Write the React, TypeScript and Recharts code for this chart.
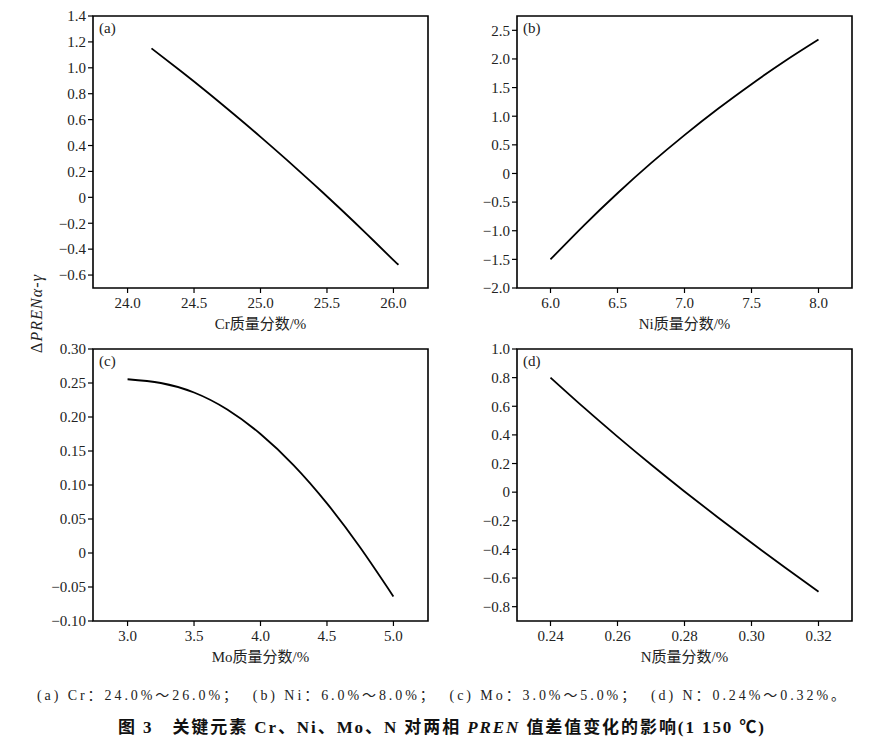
import React from 'react';
import { LineChart, Line, XAxis, YAxis, ReferenceArea } from 'recharts';

// (a) Cr
const crX = [24.18, 24.4, 24.6, 24.8, 25.0, 25.2, 25.4, 25.6, 25.8, 26.0, 26.03];
const crY = [1.15, 0.975, 0.811, 0.641, 0.467, 0.287, 0.102, -0.088, -0.284, -0.485, -0.512];
const crXTicks = [24.0, 24.5, 25.0, 25.5, 26.0];
const crXLabels = ['24.0', '24.5', '25.0', '25.5', '26.0'];
const crYTicks = [1.4, 1.2, 1.0, 0.8, 0.6, 0.4, 0.2, 0, -0.2, -0.4, -0.6];
const crYLabels = ['1.4', '1.2', '1.0', '0.8', '0.6', '0.4', '0.2', '0', '−0.2', '−0.4', '−0.6'];

// (b) Ni
const niX = [6.0, 6.25, 6.5, 6.75, 7.0, 7.25, 7.5, 7.75, 8.0];
const niY = [-1.5, -0.905, -0.345, 0.18, 0.67, 1.13, 1.56, 1.965, 2.34];
const niXTicks = [6.0, 6.5, 7.0, 7.5, 8.0];
const niXLabels = ['6.0', '6.5', '7.0', '7.5', '8.0'];
const niYTicks = [2.5, 2.0, 1.5, 1.0, 0.5, 0, -0.5, -1.0, -1.5, -2.0];
const niYLabels = ['2.5', '2.0', '1.5', '1.0', '0.5', '0', '−0.5', '−1.0', '−1.5', '−2.0'];

// (c) Mo
const moX = [3.0, 3.25, 3.5, 3.75, 4.0, 4.25, 4.5, 4.75, 5.0];
const moY = [0.2555, 0.25, 0.236, 0.211, 0.175, 0.129, 0.073, 0.008, -0.064];
const moXTicks = [3.0, 3.5, 4.0, 4.5, 5.0];
const moXLabels = ['3.0', '3.5', '4.0', '4.5', '5.0'];
const moYTicks = [0.3, 0.25, 0.2, 0.15, 0.1, 0.05, 0, -0.05, -0.1];
const moYLabels = ['0.30', '0.25', '0.20', '0.15', '0.10', '0.05', '0', '−0.05', '−0.10'];

// (d) N
const nX = [0.24, 0.25, 0.26, 0.27, 0.28, 0.29, 0.3, 0.31, 0.32];
const nY = [0.8, 0.59, 0.388, 0.193, 0.005, -0.177, -0.354, -0.526, -0.695];
const nXTicks = [0.24, 0.26, 0.28, 0.3, 0.32];
const nXLabels = ['0.24', '0.26', '0.28', '0.30', '0.32'];
const nYTicks = [1.0, 0.8, 0.6, 0.4, 0.2, 0, -0.2, -0.4, -0.6, -0.8];
const nYLabels = ['1.0', '0.8', '0.6', '0.4', '0.2', '0', '−0.2', '−0.4', '−0.6', '−0.8'];

const serif = "'Liberation Serif', 'Times New Roman', 'Noto Sans CJK SC', serif";
const PW = 335;
const PH = 271;

const pick = (ticks: number[], labels: string[]) => (v: number) => {
  const i = ticks.findIndex((t) => Math.abs(t - v) < 1e-9);
  return i >= 0 ? labels[i] : String(v);
};

type PanelProps = {
  left: number;
  top: number;
  xs: number[];
  ys: number[];
  xDomain: [number, number];
  yDomain: [number, number];
  xTicks: number[];
  xLabels: string[];
  yTicks: number[];
  yLabels: string[];
  xTitle: string;
  tag: string;
};

const Panel = ({ left, top, xs, ys, xDomain, yDomain, xTicks, xLabels, yTicks, yLabels, xTitle, tag }: PanelProps) => {
  const data = xs.map((x, i) => ({ x, y: ys[i] }));
  return (
    <div style={{ position: 'absolute', left: left - 75, top: top - 10 }}>
      <LineChart width={PW + 85} height={PH + 62} data={data} margin={{ top: 10, right: 10, bottom: 10, left: 15 }}>
        <XAxis
          dataKey="x"
          type="number"
          domain={xDomain}
          ticks={xTicks}
          interval={0}
          allowDataOverflow
          height={41}
          tickSize={5}
          tickMargin={4}
          axisLine={false}
          tickLine={{ stroke: '#000', strokeWidth: 1.2 }}
          tick={{ fill: '#222', fontSize: 15, fontFamily: serif }}
          tickFormatter={pick(xTicks, xLabels)}
          label={{ value: xTitle, position: 'insideBottom', offset: 0, fill: '#222', fontSize: 15, fontFamily: serif }}
        />
        <YAxis
          type="number"
          domain={yDomain}
          ticks={yTicks}
          interval={0}
          allowDataOverflow
          width={60}
          tickSize={5}
          tickMargin={2}
          axisLine={false}
          tickLine={{ stroke: '#000', strokeWidth: 1.2 }}
          tick={{ fill: '#222', fontSize: 15, fontFamily: serif }}
          tickFormatter={pick(yTicks, yLabels)}
        />
        <ReferenceArea
          x1={xDomain[0]}
          x2={xDomain[1]}
          y1={yDomain[0]}
          y2={yDomain[1]}
          fill="none"
          stroke="#000"
          strokeWidth={1.6}
          ifOverflow="visible"
          label={{ value: tag, position: 'insideTopLeft', offset: 6, fill: '#222', fontSize: 15, fontFamily: serif }}
        />
        <Line type="natural" dataKey="y" stroke="#000" strokeWidth={1.8} dot={false} isAnimationActive={false} />
      </LineChart>
    </div>
  );
};

export default function App() {
  return (
    <div style={{ position: 'absolute', left: 0, top: 0, width: 892, height: 745, background: '#fff' }}>
      <Panel left={93} top={16} xs={crX} ys={crY} xDomain={[23.74, 26.26]} yDomain={[-0.7, 1.4]}
        xTicks={crXTicks} xLabels={crXLabels} yTicks={crYTicks} yLabels={crYLabels} xTitle="Cr质量分数/%" tag="(a)" />
      <Panel left={517} top={16} xs={niX} ys={niY} xDomain={[5.75, 8.25]} yDomain={[-2.0, 2.75]}
        xTicks={niXTicks} xLabels={niXLabels} yTicks={niYTicks} yLabels={niYLabels} xTitle="Ni质量分数/%" tag="(b)" />
      <Panel left={93} top={349} xs={moX} ys={moY} xDomain={[2.74, 5.26]} yDomain={[-0.1, 0.3]}
        xTicks={moXTicks} xLabels={moXLabels} yTicks={moYTicks} yLabels={moYLabels} xTitle="Mo质量分数/%" tag="(c)" />
      <Panel left={517} top={349} xs={nX} ys={nY} xDomain={[0.23, 0.33]} yDomain={[-0.9, 1.0]}
        xTicks={nXTicks} xLabels={nXLabels} yTicks={nYTicks} yLabels={nYLabels} xTitle="N质量分数/%" tag="(d)" />
      <svg width={892} height={745} style={{ position: 'absolute', left: 0, top: 0, pointerEvents: 'none' }}>
        <text transform="translate(42,314) rotate(-90)" textAnchor="middle" fontSize={16} fontFamily={serif}
          fill="#222" textLength={78} lengthAdjust="spacing">
          Δ<tspan fontStyle="italic">PRENα-γ</tspan>
        </text>
        <text x={441} y={700} textAnchor="middle" fontSize={14} fontFamily={serif} fill="#222"
          textLength={808} lengthAdjust="spacing" style={{ whiteSpace: 'pre' }}>
          (a) Cr：24.0%～26.0%；  (b) Ni：6.0%～8.0%；  (c) Mo：3.0%～5.0%；  (d) N：0.24%～0.32%。
        </text>
        <text x={441} y={733} textAnchor="middle" fontSize={17} fontWeight="bold" fontFamily={serif} fill="#111"
          textLength={646} lengthAdjust="spacing" style={{ whiteSpace: 'pre' }}>
          图 3　关键元素 Cr、Ni、Mo、N 对两相 <tspan fontStyle="italic">PREN</tspan> 值差值变化的影响(1 150 ℃)
        </text>
      </svg>
    </div>
  );
}
